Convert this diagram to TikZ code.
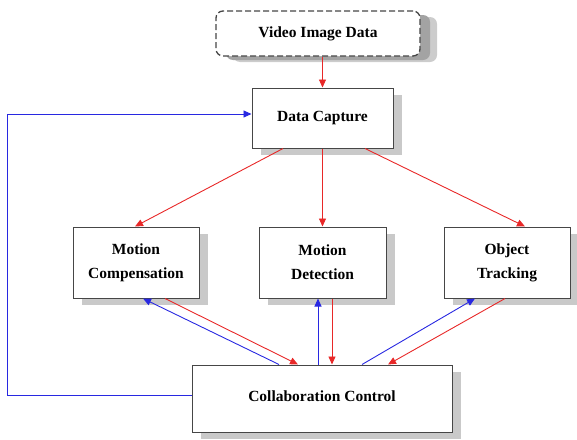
\documentclass[tikz,border=0pt]{standalone}
\usepackage{fontspec}
\setmainfont{Liberation Serif}
\usetikzlibrary{arrows.meta,shadows}
\definecolor{arrred}{RGB}{232,40,40}
\definecolor{arrblue}{RGB}{40,40,225}
\definecolor{edge}{RGB}{70,70,70}
\tikzset{
  block/.style={draw=edge, line width=1pt, fill=white, align=center,
    font=\fontsize{15.5}{24}\selectfont\bfseries, inner sep=0pt,
    drop shadow={shadow xshift=9pt, shadow yshift=-7pt, fill=gray!42, opacity=1}},
  source/.style={draw=edge, line width=1.3pt, dash pattern=on 6pt off 3pt,
    rounded corners=7pt, fill=white, align=center,
    font=\fontsize{15.5}{24}\selectfont\bfseries, inner sep=0pt,
    drop shadow={shadow xshift=17pt, shadow yshift=-6pt, fill=gray!40, opacity=1},
    drop shadow={shadow xshift=10pt, shadow yshift=-4pt, fill=gray!72, opacity=1}},
  flowred/.style={draw=arrred, line width=0.9pt, -{Triangle[length=8pt,width=7pt]}},
  flowblue/.style={draw=arrblue, line width=0.9pt, -{Triangle[length=8pt,width=7pt]}}
}
\begin{document}
\begin{tikzpicture}[x=1pt,y=-1pt]
\useasboundingbox (0,0) rectangle (577,439);

% blocks
\node[source, minimum width=204pt, minimum height=45pt] (vid) at (318,33.5) {Video Image Data};
\node[block, minimum width=141pt, minimum height=60pt] (dc) at (322.5,118) {Data Capture};
\node[block, minimum width=126pt, minimum height=71pt] (mc) at (136,262.5) {Motion\\Compensation};
\node[block, minimum width=127pt, minimum height=71pt] (md) at (322.5,262.5) {Motion\\Detection};
\node[block, minimum width=126pt, minimum height=71pt] (ot) at (507,262.5) {Object\\Tracking};
\node[block, minimum width=260pt, minimum height=67pt] (cc) at (322,398.5) {\raisebox{5pt}{Collaboration Control}};

% data flow (red)
\draw[flowred] ([xshift=4.5pt]vid.south) -- (dc.north);
\draw[flowred] ([xshift=-39.5pt]dc.south) -- ([xshift=-1pt]mc.north);
\draw[flowred] (dc.south) -- (md.north);
\draw[flowred] ([xshift=42.5pt]dc.south) -- ([xshift=18pt]ot.north);
\draw[flowred] ([xshift=29pt]mc.south) -- ([xshift=-24pt]cc.north);
\draw[flowred] ([xshift=9.5pt]md.south) -- ([xshift=10pt]cc.north);
\draw[flowred] ([xshift=-2pt]ot.south) -- ([xshift=66pt]cc.north);

% control flow (blue)
\draw[flowblue] ([xshift=-43pt]cc.north) -- ([xshift=7pt]mc.south);
\draw[flowblue] ([xshift=-4pt]cc.north) -- ([xshift=-4.5pt]md.south);
\draw[flowblue] ([xshift=40pt]cc.north) -- ([xshift=-32pt]ot.south);
\draw[flowblue] ([yshift=3.5pt]cc.west) -- ++(-184,0) |- ([yshift=4pt]dc.west);
\end{tikzpicture}
\end{document}
